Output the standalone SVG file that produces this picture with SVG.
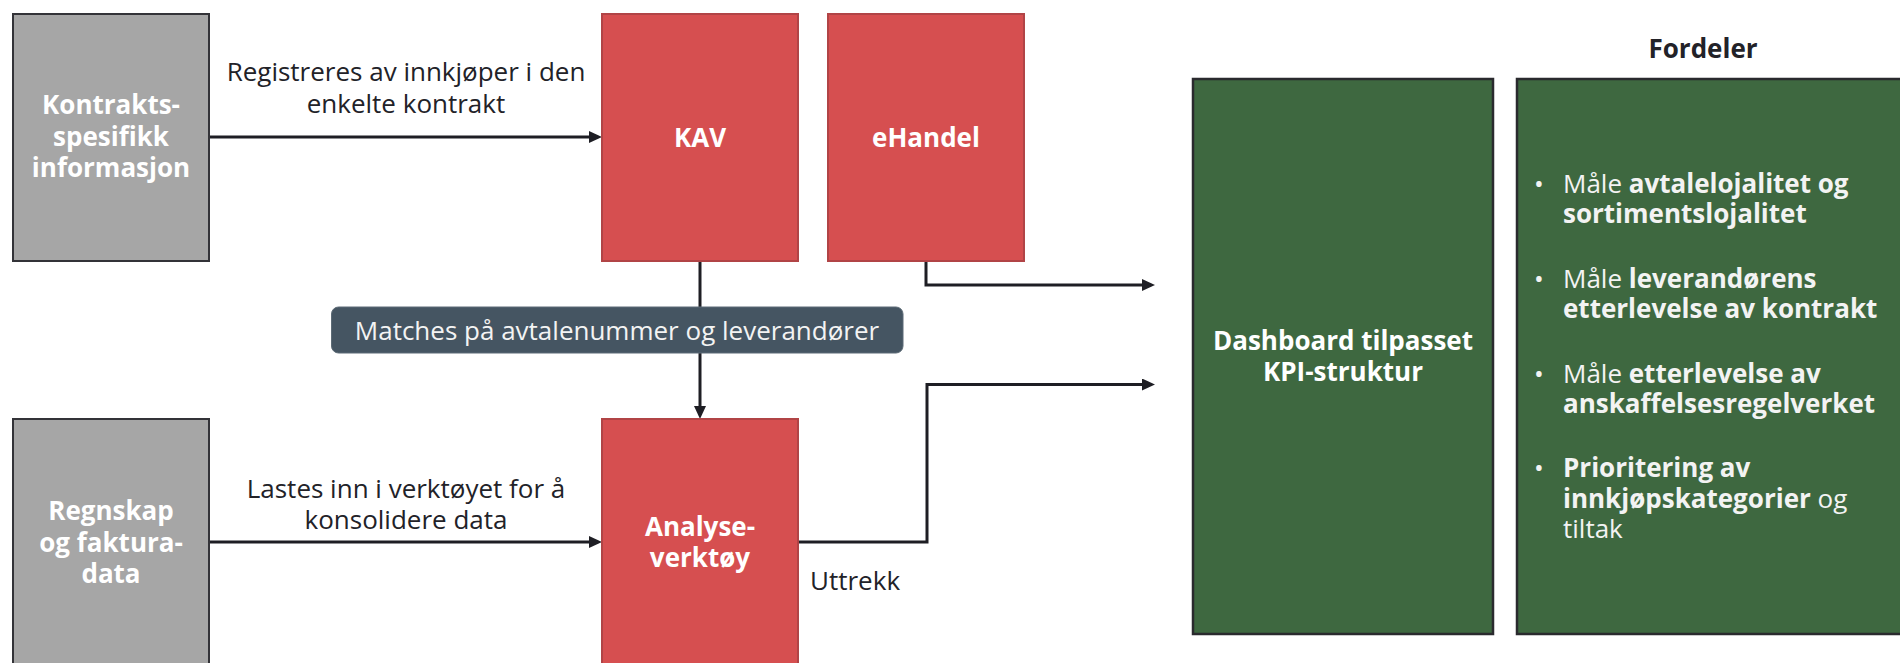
<svg xmlns="http://www.w3.org/2000/svg" width="1900" height="663" viewBox="0 0 1900 663">
<defs>
<style>
.t{font-family:"Open Sans","Noto Sans","Liberation Sans",sans-serif;font-size:26px}
.b{font-weight:700}
.w{fill:#ffffff}
.wl{fill:#f3f3f3}
.d{fill:#222228}
.grey{fill:#a6a6a6;stroke:#333338;stroke-width:2}
.red{fill:#d64f50;stroke:#b14446;stroke-width:2}
.green{fill:#3e6840;stroke:#2a2a2e;stroke-width:2.5}
.con{fill:none;stroke:#1e1e24;stroke-width:3;stroke-linejoin:miter;stroke-linecap:butt}
</style>
<marker id="ah" markerUnits="userSpaceOnUse" markerWidth="14" markerHeight="13" refX="3" refY="6" orient="auto">
<path d="M0,0 L13,6 L0,12 z" fill="#1e1e24"/>
</marker>
</defs>
<rect width="1900" height="663" fill="#ffffff"/>

<g id="connectors">
<path class="con" d="M209,137 H592" marker-end="url(#ah)"/>
<path class="con" d="M209,542 H592" marker-end="url(#ah)"/>
<path class="con" d="M700,261 V409" marker-end="url(#ah)"/>
<path class="con" d="M926,261 V285 H1145" marker-end="url(#ah)"/>
<path class="con" d="M798,542 H927 V384.5 H1145" marker-end="url(#ah)"/>
<text class="t d" text-anchor="middle"><tspan x="406" y="81">Registreres av innkjøper i den</tspan><tspan x="406" y="113">enkelte kontrakt</tspan></text>
<text class="t d" text-anchor="middle"><tspan x="406" y="498">Lastes inn i verktøyet for å</tspan><tspan x="406" y="529">konsolidere data</tspan></text>
<text class="t d" x="810" y="590">Uttrekk</text>
</g>

<g id="match-label">
<rect x="331.5" y="307" width="571.5" height="46" rx="7" fill="#455562" stroke="#5d6b76" stroke-width="1"/>
<text class="t wl" text-anchor="middle" x="617" y="340">Matches på avtalenummer og leverandører</text>
</g>

<g id="kontrakt">
<rect class="grey" x="13" y="14" width="196" height="247"/>
<text class="t b w" text-anchor="middle"><tspan x="111" y="114">Kontrakts-</tspan><tspan x="111" y="146">spesifikk</tspan><tspan x="111" y="177">informasjon</tspan></text>
</g>

<g id="regnskap">
<rect class="grey" x="13" y="419" width="196" height="247"/>
<text class="t b w" text-anchor="middle"><tspan x="111" y="520">Regnskap</tspan><tspan x="111" y="552">og faktura-</tspan><tspan x="111" y="583">data</tspan></text>
</g>

<g id="kav">
<rect class="red" x="602" y="14" width="196" height="247"/>
<text class="t b w" text-anchor="middle" x="700" y="146.5">KAV</text>
</g>

<g id="ehandel">
<rect class="red" x="828" y="14" width="196" height="247"/>
<text class="t b w" text-anchor="middle" x="926" y="146.5">eHandel</text>
</g>

<g id="analyse">
<rect class="red" x="602" y="419" width="196" height="247"/>
<text class="t b w" text-anchor="middle"><tspan x="700" y="536">Analyse-</tspan><tspan x="700" y="567">verktøy</tspan></text>
</g>

<g id="dashboard">
<rect class="green" x="1193" y="79" width="300" height="555"/>
<text class="t b w" text-anchor="middle"><tspan x="1343" y="350">Dashboard tilpasset</tspan><tspan x="1343" y="381">KPI-struktur</tspan></text>
</g>

<g id="fordeler">
<text class="t b d" text-anchor="middle" x="1703" y="58">Fordeler</text>
<rect class="green" x="1517" y="79" width="390" height="555"/>
<g class="t wl">
<text><tspan x="1534" y="193">•</tspan><tspan x="1563" y="193">Måle </tspan><tspan class="b">avtalelojalitet og</tspan><tspan class="b" x="1563" y="222.5">sortimentslojalitet</tspan></text>
<text><tspan x="1534" y="288">•</tspan><tspan x="1563" y="288">Måle </tspan><tspan class="b">leverandørens</tspan><tspan class="b" x="1563" y="317.5">etterlevelse av kontrakt</tspan></text>
<text><tspan x="1534" y="383">•</tspan><tspan x="1563" y="383">Måle </tspan><tspan class="b">etterlevelse av</tspan><tspan class="b" x="1563" y="412.5">anskaffelsesregelverket</tspan></text>
<text><tspan x="1534" y="477">•</tspan><tspan class="b" x="1563" y="477">Prioritering av</tspan><tspan class="b" x="1563" y="507.5">innkjøpskategorier</tspan><tspan> og</tspan><tspan x="1563" y="538">tiltak</tspan></text>
</g>
</g>
</svg>
